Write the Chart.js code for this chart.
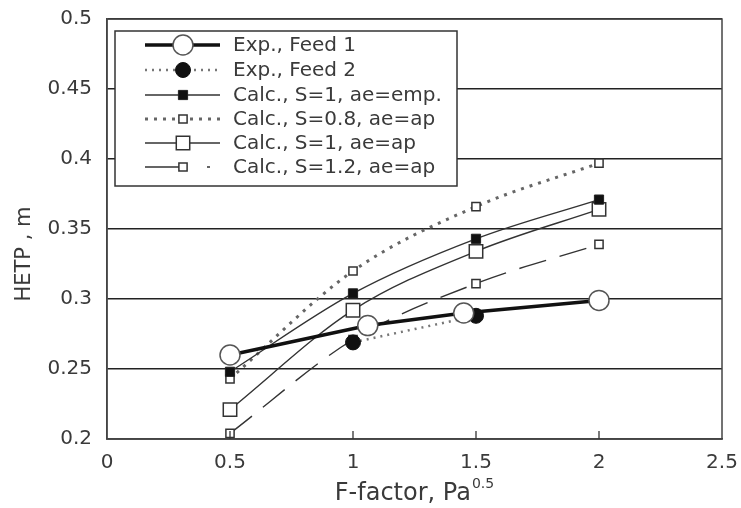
<!DOCTYPE html>
<html>
<head>
<meta charset="utf-8">
<script src="https://cdn.jsdelivr.net/npm/chart.js@4.4.1/dist/chart.umd.min.js"></script>
<style>
  html, body { margin: 0; padding: 0; background: #fff; }
  #c { display: block; }
</style>
</head>
<body>
<canvas id="c" width="741" height="508"></canvas>
<script>
// ---- data ----
const seriesNames = [
  'Exp., Feed 1',
  'Exp., Feed 2',
  'Calc., S=1, ae=emp.',
  'Calc., S=0.8, ae=ap',
  'Calc., S=1, ae=ap',
  'Calc., S=1.2, ae=ap'
];
const feed1X = [0.5, 1.06, 1.45, 2.0];
const feed1Y = [0.26, 0.281, 0.29, 0.299];
const feed2X = [1.0, 1.5];
const feed2Y = [0.269, 0.288];
const calcX = [0.5, 1.0, 1.5, 2.0];
const calcS1emp = [0.248, 0.304, 0.343, 0.371];
const calcS08 = [0.243, 0.320, 0.366, 0.397];
const calcS1ap = [0.221, 0.292, 0.334, 0.364];
const calcS12 = [0.204, 0.271, 0.311, 0.339];
const xTickLabels = ['0', '0.5', '1', '1.5', '2', '2.5'];
const yTickLabels = ['0.2', '0.25', '0.3', '0.35', '0.4', '0.45', '0.5'];
const yAxisTitle = 'HETP , m';
const xAxisTitle = 'F-factor, Pa';
const xAxisTitleSup = '0.5';

const pts = (xs, ys) => xs.map((x, i) => ({ x: x, y: ys[i] }));
const FONT = '"DejaVu Sans", sans-serif';
const TEXT = '#3a3a3a';

const datasets = [
  { label: seriesNames[0], data: pts(feed1X, feed1Y), borderColor: '#111', borderWidth: 3.5,
    pointStyle: 'circle', pointRadius: 10, pointBackgroundColor: '#fff', pointBorderColor: '#555', pointBorderWidth: 1.5, tension: 0 },
  { label: seriesNames[1], data: pts(feed2X, feed2Y), borderColor: '#777', borderWidth: 2.5, borderDash: [2, 5],
    pointStyle: 'circle', pointRadius: 7.5, pointBackgroundColor: '#111', pointBorderColor: '#111', pointBorderWidth: 1, tension: 0 },
  { label: seriesNames[2], data: pts(calcX, calcS1emp), borderColor: '#333', borderWidth: 1.4,
    pointStyle: 'rect', pointRadius: 6.5, pointBackgroundColor: '#111', pointBorderColor: '#222', pointBorderWidth: 1, cubicInterpolationMode: 'monotone' },
  { label: seriesNames[3], data: pts(calcX, calcS08), borderColor: '#666', borderWidth: 3, borderDash: [3, 6],
    pointStyle: 'rect', pointRadius: 5.8, pointBackgroundColor: '#fff', pointBorderColor: '#333', pointBorderWidth: 1.5, cubicInterpolationMode: 'monotone' },
  { label: seriesNames[4], data: pts(calcX, calcS1ap), borderColor: '#333', borderWidth: 1.4,
    pointStyle: 'rect', pointRadius: 9.5, pointBackgroundColor: '#fff', pointBorderColor: '#333', pointBorderWidth: 1.5, cubicInterpolationMode: 'monotone' },
  { label: seriesNames[5], data: pts(calcX, calcS12), borderColor: '#333', borderWidth: 1.4, borderDash: [28, 14],
    pointStyle: 'rect', pointRadius: 5.8, pointBackgroundColor: '#fff', pointBorderColor: '#333', pointBorderWidth: 1.5, cubicInterpolationMode: 'monotone' }
];

const decorPlugin = {
  id: 'decor',
  afterDraw(chart) {
    const ctx = chart.ctx;
    const a = chart.chartArea;
    const xs = chart.scales.x;
    ctx.save();
    // frame (top/right)
    ctx.strokeStyle = '#444';
    ctx.lineWidth = 1.5;
    ctx.setLineDash([]);
    ctx.strokeRect(a.left, a.top, a.right - a.left, a.bottom - a.top);
    // inward x ticks
    ctx.strokeStyle = '#333';
    ctx.lineWidth = 1.3;
    xs.ticks.forEach(t => {
      const px = xs.getPixelForValue(t.value);
      if (px <= a.left + 1 || px >= a.right - 1) return;
      ctx.beginPath();
      ctx.moveTo(px, a.bottom);
      ctx.lineTo(px, a.bottom - 8);
      ctx.stroke();
    });
    // axis titles
    ctx.fillStyle = TEXT;
    ctx.textBaseline = 'alphabetic';
    ctx.font = '24px ' + FONT;
    const w1 = ctx.measureText(xAxisTitle).width;
    ctx.font = '14px ' + FONT;
    const w2 = ctx.measureText(xAxisTitleSup).width;
    const cx = (a.left + a.right) / 2;
    const sx = cx - (w1 + w2 + 1) / 2;
    ctx.font = '24px ' + FONT;
    ctx.textAlign = 'left';
    ctx.fillText(xAxisTitle, sx, 500);
    ctx.font = '14px ' + FONT;
    ctx.fillText(xAxisTitleSup, sx + w1 + 1, 488);
    ctx.save();
    ctx.translate(30, 254);
    ctx.rotate(-Math.PI / 2);
    ctx.font = '21px ' + FONT;
    ctx.textAlign = 'center';
    ctx.textBaseline = 'alphabetic';
    ctx.fillText(yAxisTitle, 0, 0);
    ctx.restore();
    // legend
    const bx = 115, by = 31, bw = 342, bh = 155;
    ctx.fillStyle = '#fff';
    ctx.fillRect(bx, by, bw, bh);
    ctx.strokeStyle = '#333';
    ctx.lineWidth = 1.5;
    ctx.strokeRect(bx, by, bw, bh);
    const rowY = [45, 70, 95, 119, 143, 167];
    const legendDash = [[], [2, 5], [], [3, 6], [], [38, 24, 3, 60]];
    chart.data.datasets.forEach((ds, i) => {
      const y = rowY[i];
      ctx.save();
      ctx.strokeStyle = ds.borderColor;
      ctx.lineWidth = ds.borderWidth;
      ctx.setLineDash(legendDash[i]);
      ctx.beginPath();
      ctx.moveTo(145, y);
      ctx.lineTo(220, y);
      ctx.stroke();
      ctx.setLineDash([]);
      ctx.fillStyle = ds.pointBackgroundColor;
      ctx.strokeStyle = ds.pointBorderColor;
      ctx.lineWidth = ds.pointBorderWidth;
      Chart.helpers.drawPoint(ctx, { pointStyle: ds.pointStyle, radius: ds.pointRadius, borderWidth: ds.pointBorderWidth, rotation: 0 }, 183, y);
      ctx.restore();
      ctx.fillStyle = TEXT;
      ctx.font = '20px ' + FONT;
      ctx.textAlign = 'left';
      ctx.textBaseline = 'middle';
      ctx.fillText(ds.label, 233, y + 1);
    });
    ctx.restore();
  }
};

function zeroPad(s) { s.paddingTop = 0; s.paddingBottom = 0; s.paddingLeft = 0; s.paddingRight = 0; }

new Chart(document.getElementById('c'), {
  type: 'line',
  data: { datasets: datasets },
  options: {
    responsive: false,
    animation: false,
    devicePixelRatio: 1,
    layout: { padding: { left: 0, right: 19, top: 19, bottom: 0 } },
    plugins: { legend: { display: false }, tooltip: { enabled: false }, title: { display: false } },
    scales: {
      x: {
        type: 'linear', min: 0, max: 2.5,
        afterFit: s => { s.height = 69; zeroPad(s); },
        afterBuildTicks: s => { s.ticks = xTickLabels.map(v => ({ value: parseFloat(v) })); },
        ticks: { font: { family: FONT, size: 20 }, color: TEXT, padding: 12, maxRotation: 0,
                 callback: (v, i) => xTickLabels[i] },
        grid: { display: false, drawTicks: false },
        border: { display: true, color: '#444', width: 1.5 }
      },
      y: {
        type: 'linear', min: 0.2, max: 0.5,
        afterFit: s => { s.width = 107; zeroPad(s); },
        afterBuildTicks: s => { s.ticks = yTickLabels.map(v => ({ value: parseFloat(v) })); },
        ticks: { font: { family: FONT, size: 20 }, color: TEXT, padding: 15,
                 callback: (v, i) => yTickLabels[i] },
        grid: { color: '#222', lineWidth: 1.5, drawTicks: false },
        border: { display: true, color: '#444', width: 1.5 }
      }
    }
  },
  plugins: [decorPlugin]
});
</script>
</body>
</html>
